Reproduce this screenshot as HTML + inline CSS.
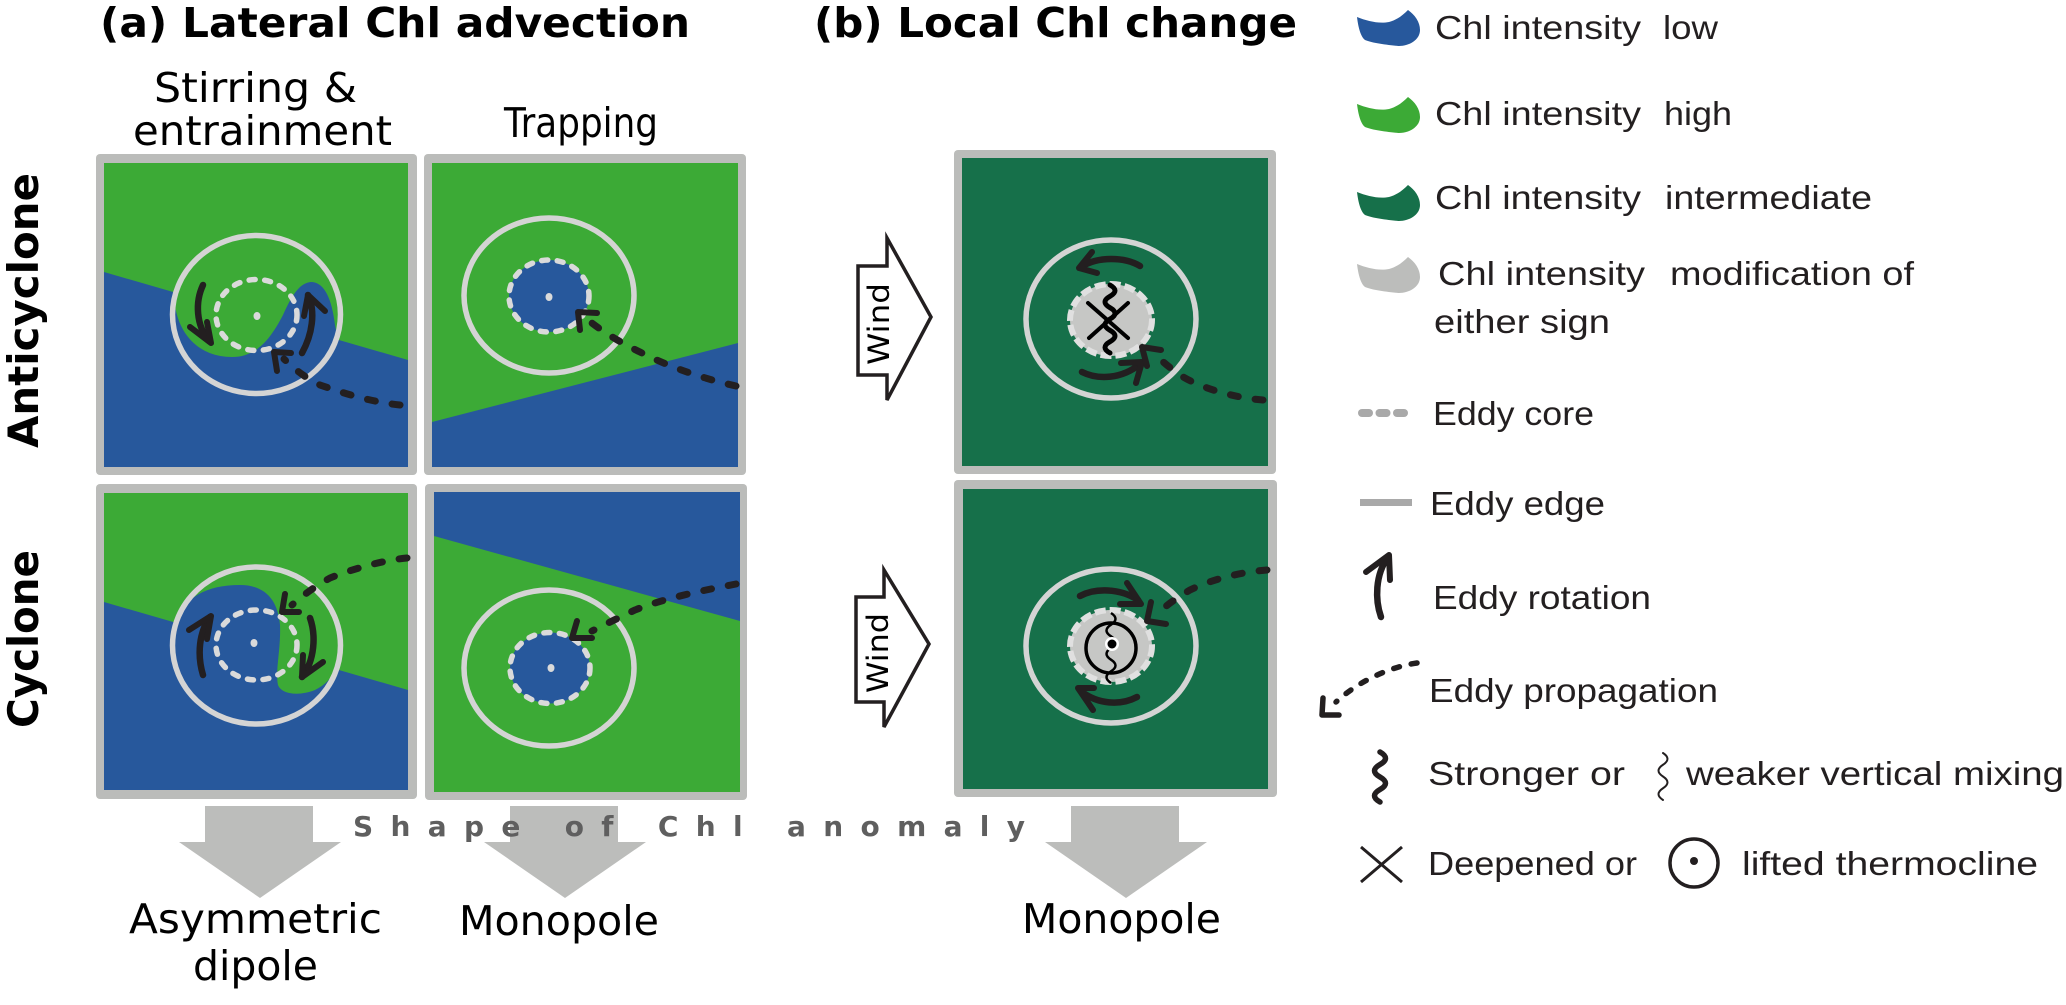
<!DOCTYPE html>
<html><head><meta charset="utf-8">
<style>
html,body{margin:0;padding:0;background:#fff;}
svg{display:block}
.rot{fill:none;stroke:#231f20;stroke-width:6.5;stroke-linecap:round;stroke-linejoin:round}
.hd{fill:none;stroke:#231f20;stroke-width:6;stroke-linecap:round;stroke-linejoin:round}
.dsh{fill:none;stroke:#231f20;stroke-width:7;stroke-linecap:round;stroke-dasharray:8 17}
.edge{fill:none;stroke:#d4d4d4;stroke-width:5.5}
.core{stroke:#dadada;stroke-width:5.5;stroke-dasharray:6 9.6;stroke-linecap:round}
.gcore{fill:#c6c7c5;stroke:#e0e0e0;stroke-width:6;stroke-dasharray:11 4}
.t{font-family:"DejaVu Sans","Liberation Sans",sans-serif;fill:#000}
.lg{font-family:"Liberation Sans","DejaVu Sans",sans-serif;fill:#231f20;font-size:33px}
</style></head><body>
<svg width="2066" height="1005" viewBox="0 0 2066 1005" xmlns="http://www.w3.org/2000/svg">
<defs>
<clipPath id="c1"><ellipse cx="256.5" cy="314.5" rx="84" ry="79"/></clipPath>
<clipPath id="c3"><ellipse cx="256.5" cy="645.5" rx="84" ry="78.5"/></clipPath>
</defs>
<rect width="2066" height="1005" fill="#fff"/>

<!-- Titles -->
<text class="t" x="100" y="37" font-size="41" font-weight="bold" textLength="590" lengthAdjust="spacingAndGlyphs">(a) Lateral Chl advection</text>
<text class="t" x="814" y="37" font-size="41" font-weight="bold" textLength="483" lengthAdjust="spacingAndGlyphs">(b) Local Chl change</text>

<!-- Column headers -->
<text class="t" x="154" y="102" font-size="41" textLength="203" lengthAdjust="spacingAndGlyphs">Stirring &amp;</text>
<text class="t" x="133" y="145" font-size="41" textLength="259" lengthAdjust="spacingAndGlyphs">entrainment</text>
<text class="t" x="504" y="137" font-size="41" textLength="154" lengthAdjust="spacingAndGlyphs">Trapping</text>

<!-- Row labels -->
<text class="t" transform="translate(38,448) rotate(-90)" font-size="42" font-weight="bold" textLength="275" lengthAdjust="spacingAndGlyphs">Anticyclone</text>
<text class="t" transform="translate(38,728) rotate(-90)" font-size="42" font-weight="bold" textLength="178" lengthAdjust="spacingAndGlyphs">Cyclone</text>

<!-- ===== Panel A1: anticyclone stirring ===== -->
<rect x="96" y="154" width="321" height="321" rx="4" fill="#bbbcba"/>
<rect x="104" y="163" width="304" height="304" fill="#3caa36"/>
<polygon points="104,272 408,360 408,467 104,467" fill="#27589c"/>
<g clip-path="url(#c1)">
  <rect x="160" y="225" width="200" height="180" fill="#3caa36"/>
  <path d="M150,296 L174,296 C176,335 200,357 232,357 C256,357 270,340 283,315 C292,295 300,282 312,282 C325,283 332,300 335,325 L338,341 L360,341 L360,420 L150,420 Z" fill="#27589c"/>
</g>
<ellipse class="edge" cx="256.5" cy="314.5" rx="84" ry="79"/>
<ellipse class="core" cx="256.5" cy="315" rx="40.5" ry="35.5" fill="none"/>
<ellipse cx="257" cy="316" rx="3.5" ry="4" fill="#dadada"/>
<path class="rot" d="M203,285 C195,302 196,325 209,341"/>
<path class="hd" d="M190,327 L211,343 L207,322"/>
<path class="rot" d="M302,353 C312,335 316,312 308,295"/>
<path class="hd" d="M304,316 L308,295 L325,311"/>
<path class="dsh" d="M400,405 C370,402 340,392 320,385 C305,378 292,367 284,359"/>
<path class="hd" d="M277,371 L274,352 L291,353"/>

<!-- ===== Panel A2: anticyclone trapping ===== -->
<rect x="424" y="154" width="322" height="321" rx="4" fill="#bbbcba"/>
<rect x="432" y="163" width="306" height="304" fill="#3caa36"/>
<polygon points="432,422 738,343 738,467 432,467" fill="#27589c"/>
<ellipse class="edge" cx="549" cy="295.5" rx="85" ry="77.5"/>
<ellipse class="core" cx="549" cy="296" rx="40" ry="36" fill="#27589c"/>
<ellipse cx="549" cy="297" rx="3.5" ry="4" fill="#dadada"/>
<path class="dsh" d="M736,386 C700,378 665,365 640,352 C615,340 598,328 588,320"/>
<path class="hd" d="M580,330 L578,312 L597,313"/>

<!-- ===== Panel A3: cyclone stirring ===== -->
<rect x="96" y="484" width="321" height="315" rx="4" fill="#bbbcba"/>
<rect x="104" y="493" width="304" height="297" fill="#3caa36"/>
<polygon points="104,602 408,690 408,790 104,790" fill="#27589c"/>
<g clip-path="url(#c3)">
  <rect x="160" y="560" width="200" height="175" fill="#3caa36"/>
  <path d="M150,621 L177,621 C185,598 205,585 240,585 C265,585 278,600 280,625 C281,650 275,670 278,685 C282,695 300,696 315,690 C325,685 332,678 336,668 L360,668 L360,740 L150,740 Z" fill="#27589c"/>
</g>
<ellipse class="edge" cx="256.5" cy="645.5" rx="84" ry="78.5"/>
<ellipse class="core" cx="256.5" cy="645" rx="40.5" ry="35" fill="none"/>
<ellipse cx="254" cy="643" rx="3.5" ry="4" fill="#dadada"/>
<path class="rot" d="M203,675 C197,655 199,632 210,617"/>
<path class="hd" d="M189,630 L211,616 L207,639"/>
<path class="rot" d="M310,618 C316,635 315,660 302,677"/>
<path class="hd" d="M303,655 L302,677 L323,662"/>
<path class="dsh" d="M407,558 C385,560 355,568 330,578 C312,588 300,598 292,605"/>
<path class="hd" d="M285,594 L282,612 L299,612"/>

<!-- ===== Panel A4: cyclone trapping ===== -->
<rect x="425" y="484" width="322" height="316" rx="4" fill="#bbbcba"/>
<rect x="434" y="492" width="306" height="300" fill="#3caa36"/>
<polygon points="434,492 740,492 740,621 434,536" fill="#27589c"/>
<ellipse class="edge" cx="549" cy="668" rx="85" ry="78"/>
<ellipse class="core" cx="550" cy="668" rx="40" ry="35.5" fill="#27589c"/>
<ellipse cx="551" cy="668" rx="3.5" ry="4" fill="#dadada"/>
<path class="dsh" d="M736,584 C705,590 665,598 635,610 C614,620 600,627 592,631"/>
<path class="hd" d="M577,621 L572,638 L592,638"/>

<!-- ===== Wind arrows ===== -->
<path d="M858,266 L887,266 L887,238 L931,317 L887,400 L887,375 L858,375 Z" fill="#fff" stroke="#231f20" stroke-width="3.5"/>
<text class="t" transform="translate(889,365) rotate(-90)" font-size="29" textLength="82" lengthAdjust="spacingAndGlyphs">Wind</text>
<path d="M856,597 L884,597 L884,570 L929,644 L884,727 L884,702 L856,702 Z" fill="#fff" stroke="#231f20" stroke-width="3.5"/>
<text class="t" transform="translate(888,693) rotate(-90)" font-size="29" textLength="80" lengthAdjust="spacingAndGlyphs">Wind</text>

<!-- ===== Panel B1 ===== -->
<rect x="954" y="150" width="322" height="324" rx="4" fill="#bbbcba"/>
<rect x="962" y="158" width="306" height="308" fill="#16704a"/>
<ellipse class="edge" cx="1111" cy="319" rx="85" ry="79"/>
<ellipse class="gcore" cx="1111" cy="320" rx="41" ry="36"/>
<path d="M1088,303 L1128,338 M1128,303 L1089,338" stroke="#000" stroke-width="4" fill="none" stroke-linecap="round"/>
<path d="M1110,285 q10,5.67 0,11.33 q-10,5.67 0,11.33 q10,5.67 0,11.33 q-10,5.67 0,11.33 q10,5.67 0,11.33 q-10,5.67 0,11.33" fill="none" stroke="#000" stroke-width="5" stroke-linecap="round"/>
<path class="rot" d="M1140,266 C1125,257 1098,256 1081,267"/>
<path class="hd" d="M1092,252 L1079,268 L1097,273"/>
<path class="rot" d="M1082,372 C1098,380 1122,379 1140,364"/>
<path class="hd" d="M1121,363 L1142,362 L1136,383"/>
<path class="dsh" d="M1263,400 C1235,398 1200,388 1180,375 C1170,368 1163,362 1158,357"/>
<path class="hd" d="M1147,366 L1142,347 L1161,350"/>

<!-- ===== Panel B2 ===== -->
<rect x="954" y="480" width="323" height="317" rx="4" fill="#bbbcba"/>
<rect x="963" y="489" width="305" height="300" fill="#16704a"/>
<ellipse class="edge" cx="1111" cy="646" rx="85" ry="77"/>
<ellipse class="gcore" cx="1111" cy="646" rx="41" ry="36"/>
<circle cx="1111" cy="648" r="25" fill="none" stroke="#000" stroke-width="3.5"/>
<path d="M1111,613 q9,5.83 0,11.67 q-9,5.83 0,11.67 q9,5.83 0,11.67 q-9,5.83 0,11.67 q9,5.83 0,11.67 q-9,5.83 0,11.67" fill="none" stroke="#000" stroke-width="2.5"/>
<circle cx="1112" cy="644" r="7" fill="#fff"/>
<circle cx="1112" cy="644" r="4.5" fill="#000"/>
<path class="rot" d="M1080,596 C1095,588 1120,588 1138,600"/>
<path class="hd" d="M1127,583 L1141,604 L1120,604"/>
<path class="rot" d="M1137,697 C1120,706 1098,704 1082,692"/>
<path class="hd" d="M1094,688 L1078,688 L1093,710"/>
<path class="dsh" d="M1267,570 C1240,572 1210,580 1190,590 C1178,597 1170,603 1165,607"/>
<path class="hd" d="M1151,602 L1147,621 L1166,624"/>

<!-- ===== Big gray arrows ===== -->
<path d="M205,806 L313,806 L313,842 L341,842 L260,898 L179,842 L205,842 Z" fill="#bcbdbb"/>
<path d="M510,806 L618,806 L618,842 L646,842 L565,898 L484,842 L510,842 Z" fill="#bcbdbb"/>
<path d="M1071,806 L1179,806 L1179,842 L1207,842 L1126,898 L1045,842 L1071,842 Z" fill="#bcbdbb"/>

<text x="353" y="836" font-family="'DejaVu Sans','Liberation Sans',sans-serif" font-weight="bold" font-size="28" fill="#5f5f5f" textLength="672" lengthAdjust="spacing">Shape of Chl anomaly</text>

<!-- Bottom labels -->
<text class="t" x="129" y="933" font-size="41" textLength="253" lengthAdjust="spacingAndGlyphs">Asymmetric</text>
<text class="t" x="193" y="980" font-size="41" textLength="125" lengthAdjust="spacingAndGlyphs">dipole</text>
<text class="t" x="459" y="935" font-size="41" textLength="200" lengthAdjust="spacingAndGlyphs">Monopole</text>
<text class="t" x="1022" y="933" font-size="41" textLength="199" lengthAdjust="spacingAndGlyphs">Monopole</text>

<!-- ===== Legend ===== -->
<g>
<path transform="translate(1357,10)" d="M0,7 C10,11 22,14 32,12 C40,10 46,5 51,0 C58,5 63,12 63,20 C63,30 52,36 42,36 C30,35 15,33 8,30 C3,26 1,15 0,7 Z" fill="#27589c"/>
<path transform="translate(1357,97)" d="M0,7 C10,11 22,14 32,12 C40,10 46,5 51,0 C58,5 63,12 63,20 C63,30 52,36 42,36 C30,35 15,33 8,30 C3,26 1,15 0,7 Z" fill="#3caa36"/>
<path transform="translate(1357,185)" d="M0,7 C10,11 22,14 32,12 C40,10 46,5 51,0 C58,5 63,12 63,20 C63,30 52,36 42,36 C30,35 15,33 8,30 C3,26 1,15 0,7 Z" fill="#16704a"/>
<path transform="translate(1357,257)" d="M0,7 C10,11 22,14 32,12 C40,10 46,5 51,0 C58,5 63,12 63,20 C63,30 52,36 42,36 C30,35 15,33 8,30 C3,26 1,15 0,7 Z" fill="#bcbdbb"/>
</g>
<text class="lg" x="1435" y="39" textLength="206" lengthAdjust="spacingAndGlyphs">Chl intensity</text>
<text class="lg" x="1663" y="39" textLength="55" lengthAdjust="spacingAndGlyphs">low</text>
<text class="lg" x="1435" y="125" textLength="206" lengthAdjust="spacingAndGlyphs">Chl intensity</text>
<text class="lg" x="1664" y="125" textLength="68" lengthAdjust="spacingAndGlyphs">high</text>
<text class="lg" x="1435" y="209" textLength="206" lengthAdjust="spacingAndGlyphs">Chl intensity</text>
<text class="lg" x="1665" y="209" textLength="207" lengthAdjust="spacingAndGlyphs">intermediate</text>
<text class="lg" x="1438" y="285" textLength="207" lengthAdjust="spacingAndGlyphs">Chl intensity</text>
<text class="lg" x="1670" y="285" textLength="244" lengthAdjust="spacingAndGlyphs">modification of</text>
<text class="lg" x="1434" y="333" textLength="176" lengthAdjust="spacingAndGlyphs">either sign</text>

<rect x="1358" y="409" width="15" height="8" rx="4" fill="#a9a9a9"/>
<rect x="1375.5" y="409" width="15" height="8" rx="4" fill="#a9a9a9"/>
<rect x="1393" y="409" width="15" height="8" rx="4" fill="#a9a9a9"/>
<text class="lg" x="1433" y="425" textLength="161" lengthAdjust="spacingAndGlyphs">Eddy core</text>

<rect x="1360" y="499" width="52" height="7" fill="#a9a9a9"/>
<text class="lg" x="1430" y="515" textLength="175" lengthAdjust="spacingAndGlyphs">Eddy edge</text>

<path class="rot" d="M1381,617 C1375,600 1375,575 1388,557"/>
<path class="hd" d="M1366,572 L1389,555 L1390,580"/>
<text class="lg" x="1433" y="609" textLength="218" lengthAdjust="spacingAndGlyphs">Eddy rotation</text>

<path d="M1417,663 C1395,666 1362,678 1336,702" fill="none" stroke="#231f20" stroke-width="5.5" stroke-linecap="round" stroke-dasharray="6 12"/>
<path d="M1323,698 L1322,715 L1339,715" fill="none" stroke="#231f20" stroke-width="5.5" stroke-linecap="round" stroke-linejoin="round"/>
<text class="lg" x="1429" y="702" textLength="289" lengthAdjust="spacingAndGlyphs">Eddy propagation</text>

<path d="M1380,752 q11,6.25 0,12.5 q-11,6.25 0,12.5 q11,6.25 0,12.5 q-11,6.25 0,12.5" fill="none" stroke="#231f20" stroke-width="5.5" stroke-linecap="round"/>
<text class="lg" x="1428" y="785" textLength="197" lengthAdjust="spacingAndGlyphs">Stronger or</text>
<path d="M1663,753 q9,5.9 0,11.75 q-9,5.9 0,11.75 q9,5.9 0,11.75 q-9,5.9 0,11.75" fill="none" stroke="#231f20" stroke-width="2" stroke-linecap="round"/>
<text class="lg" x="1686" y="785" textLength="378" lengthAdjust="spacingAndGlyphs">weaker vertical mixing</text>

<path d="M1361,847 L1402,882 M1402,847 L1361,882" stroke="#231f20" stroke-width="3" fill="none"/>
<text class="lg" x="1428" y="875" textLength="209" lengthAdjust="spacingAndGlyphs">Deepened or</text>
<circle cx="1694" cy="863" r="24" fill="none" stroke="#231f20" stroke-width="3.5"/>
<circle cx="1694" cy="861" r="4" fill="#231f20"/>
<text class="lg" x="1742" y="875" textLength="296" lengthAdjust="spacingAndGlyphs">lifted thermocline</text>
</svg>
</body></html>
